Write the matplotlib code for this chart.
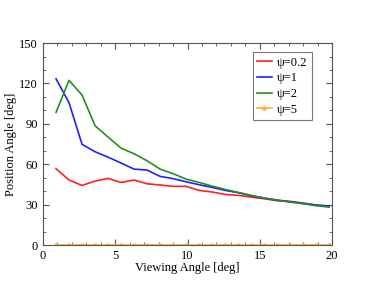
import numpy as np
import matplotlib.pyplot as plt
from matplotlib.ticker import MultipleLocator

plt.rcParams['font.family'] = ['Liberation Serif', 'DejaVu Serif']

# viewing angle [deg]
view = [0.9, 1.8, 2.7, 3.6, 4.5, 5.4, 6.3, 7.2, 8.1, 9.0, 9.9,
        10.8, 11.7, 12.6, 13.5, 14.4, 15.3, 16.2, 17.1, 18.0, 18.9, 19.8]

# position angle [deg] for each psi
pa_02 = [56.7, 48.3, 44.3, 47.5, 49.5, 46.5, 48.3, 45.5, 44.6, 43.6, 43.6,
         40.6, 39.4, 37.6, 36.9, 35.6, 34.4, 32.9, 32.4, 31.2, 29.7, 28.7]
pa_1 = [123.5, 105.7, 74.8, 69.3, 65.3, 60.9, 56.4, 55.7, 51.0, 49.3, 47.0,
        44.8, 42.8, 40.6, 38.9, 36.6, 34.9, 33.4, 32.2, 30.9, 29.7, 29.0]
pa_2 = [98.5, 122.3, 111.4, 88.6, 80.2, 72.0, 67.8, 62.6, 56.4, 53.0, 49.0,
        46.5, 43.8, 41.3, 39.1, 36.9, 34.9, 33.4, 31.9, 30.7, 29.2, 28.2]
pa_5 = [0.0] * 22

fig = plt.figure(figsize=(3.74, 2.89), dpi=100)
ax = fig.add_axes([0.115, 0.152, 0.773, 0.699])

ax.plot(view, pa_02, color='#ff2020', lw=1.2, label='ψ=0.2')
ax.plot(view, pa_1, color='#2020ff', lw=1.2, label='ψ=1')
ax.plot(view, pa_2, color='#209020', lw=1.2, label='ψ=2')
ax.plot(view, pa_5, color='#ffb030', lw=1.2, marker='o', ms=2.2, label='ψ=5')

ax.set_xlim(0, 20)
ax.set_ylim(0, 150)
ax.xaxis.set_major_locator(MultipleLocator(5))
ax.xaxis.set_minor_locator(MultipleLocator(1))
ax.yaxis.set_major_locator(MultipleLocator(30))
ax.yaxis.set_minor_locator(MultipleLocator(10))
ax.tick_params(which='both', direction='in', top=True, right=True,
               labelsize=9, color='#555555')
ax.tick_params(which='major', length=4)
ax.tick_params(which='minor', length=2)
for s in ax.spines.values():
    s.set_color('#555555')

ax.set_xlabel('Viewing Angle [deg]', fontsize=9, labelpad=0)
ax.set_ylabel('Position Angle [deg]', fontsize=9, labelpad=2)

leg = ax.legend(loc='upper right', bbox_to_anchor=(0.93, 0.955), fontsize=9,
                fancybox=False, handlelength=1.2, handletextpad=0.4,
                labelspacing=0.3, borderpad=0.35, borderaxespad=0)
leg.get_frame().set_edgecolor('#555555')
leg.get_frame().set_linewidth(0.8)

fig.savefig('out.png', dpi=100)
